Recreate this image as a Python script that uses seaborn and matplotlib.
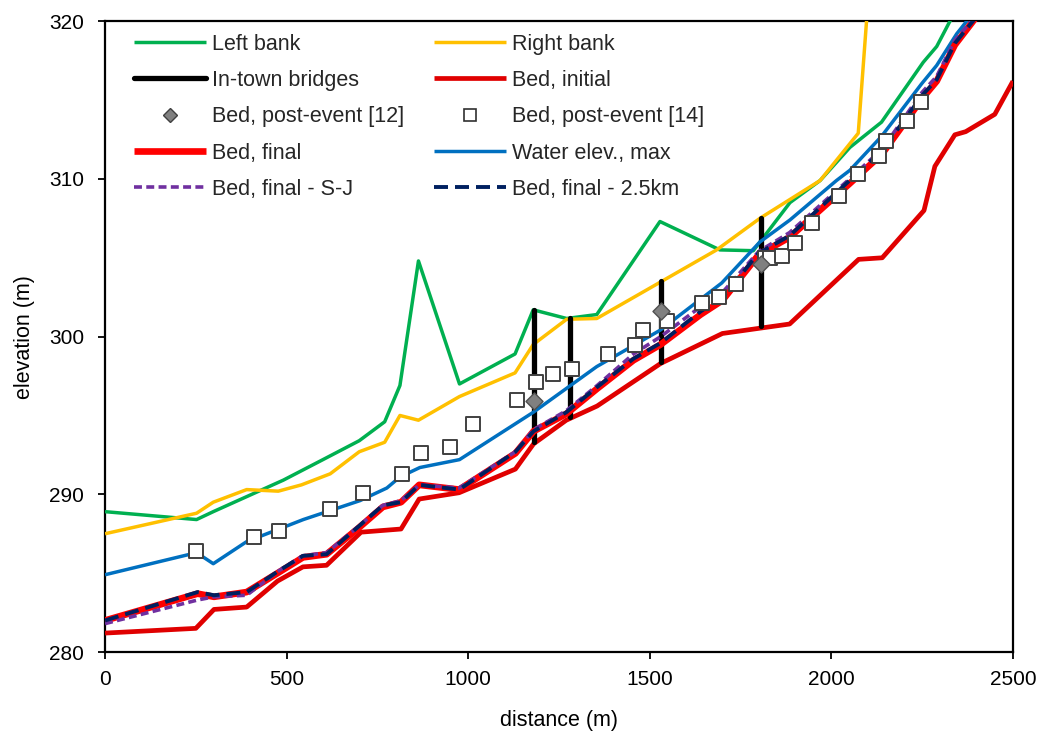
import numpy as np
import pandas as pd
import matplotlib
matplotlib.use("Agg")
import matplotlib.pyplot as plt
from matplotlib.lines import Line2D
import seaborn as sns

# ---------------- data ----------------
left_x = [0, 252, 298, 491, 600, 700, 770, 812, 863, 976, 1129, 1179, 1271, 1354, 1528, 1693, 1785, 1886, 1969, 2051, 2138, 2253, 2290, 2340]
left_y = [288.9, 288.4, 288.9, 290.9, 292.2, 293.4, 294.6, 296.9, 304.8, 297.0, 298.9, 301.7, 301.15, 301.4, 307.3, 305.5, 305.45, 308.5, 309.9, 312.0, 313.6, 317.4, 318.4, 320.6]

right_x = [0, 252, 298, 390, 477, 541, 620, 700, 770, 812, 863, 976, 1129, 1179, 1271, 1354, 1684, 1803, 1969, 2074, 2100]
right_y = [287.5, 288.8, 289.5, 290.3, 290.2, 290.6, 291.3, 292.7, 293.3, 295.0, 294.7, 296.2, 297.7, 299.5, 301.1, 301.15, 305.5, 307.5, 309.9, 312.9, 321.0]

water_x = [0, 252, 298, 390, 546, 702, 776, 812, 867, 976, 1179, 1354, 1528, 1698, 1803, 1886, 2014, 2051, 2138, 2249, 2290, 2345, 2400]
water_y = [284.9, 286.3, 285.6, 287.0, 288.4, 289.6, 290.4, 291.1, 291.7, 292.2, 295.2, 298.1, 300.4, 303.4, 306.0, 307.4, 309.9, 310.55, 312.7, 316.05, 317.2, 319.2, 320.8]

bed_init_x = [0, 250, 300, 390, 475, 545, 610, 705, 815, 865, 975, 1130, 1180, 1270, 1355, 1530, 1700, 1885, 2075, 2140, 2255, 2285, 2340, 2370, 2450, 2500]
bed_init_y = [281.2, 281.5, 282.7, 282.85, 284.5, 285.4, 285.5, 287.6, 287.8, 289.7, 290.1, 291.6, 293.2, 294.7, 295.6, 298.3, 300.2, 300.8, 304.9, 305.0, 308.0, 310.8, 312.8, 313.0, 314.1, 316.2]

bed_fin_x = [0, 255, 300, 390, 475, 545, 610, 700, 765, 815, 865, 975, 1130, 1180, 1270, 1355, 1455, 1530, 1640, 1700, 1800, 1885, 2050, 2140, 2250, 2290, 2340, 2400]
bed_fin_y = [282.0, 283.7, 283.5, 283.8, 285.0, 286.0, 286.2, 287.9, 289.2, 289.5, 290.6, 290.3, 292.6, 294.0, 295.1, 296.7, 298.5, 299.5, 301.4, 302.3, 305.2, 306.3, 309.7, 311.6, 315.1, 316.2, 318.5, 320.3]

bed_sj_x = [0, 255, 300, 390, 475, 545, 610, 700, 765, 815, 865, 975, 1130, 1180, 1270, 1355, 1455, 1530, 1640, 1700, 1800, 1885, 2050, 2140, 2250, 2290, 2340, 2400]
bed_sj_y = [281.8, 283.3, 283.5, 283.6, 285.1, 286.1, 286.3, 288.0, 289.3, 289.6, 290.6, 290.4, 292.7, 294.1, 295.3, 296.9, 298.9, 300.0, 301.9, 302.8, 305.4, 306.6, 310.0, 311.9, 315.5, 316.5, 318.8, 320.4]

bed_25_x = [0, 255, 300, 390, 475, 545, 610, 700, 765, 815, 865, 975, 1130, 1180, 1270, 1355, 1455, 1530, 1640, 1700, 1800, 1885, 2050, 2140, 2250, 2290, 2340, 2400]
bed_25_y = [282.0, 283.8, 283.6, 283.8, 285.1, 286.1, 286.2, 288.0, 289.3, 289.5, 290.6, 290.3, 292.7, 294.0, 295.2, 296.8, 298.6, 299.6, 301.6, 302.5, 305.3, 306.4, 309.9, 311.8, 315.3, 316.3, 318.6, 320.3]

bridge_x = [1180, 1280, 1530, 1805]
bridge_top = [301.7, 301.15, 303.5, 307.5]
bridge_bot = [293.3, 294.9, 298.4, 300.7]

post12_x = [1181, 1531, 1806]
post12_y = [295.9, 301.6, 304.6]

post14_x = [250, 410, 480, 620, 711, 817, 869, 950, 1014, 1135, 1187, 1234, 1285, 1384, 1460, 1482, 1548, 1645, 1691, 1737, 1817, 1831, 1865, 1900, 1947, 2022, 2074, 2132, 2150, 2207, 2247]
post14_y = [286.4, 287.3, 287.7, 289.05, 290.1, 291.3, 292.6, 293.0, 294.45, 296.0, 297.1, 297.6, 297.95, 298.9, 299.5, 300.4, 301.0, 302.15, 302.5, 303.35, 305.0, 305.0, 305.1, 305.95, 307.2, 308.95, 310.3, 311.45, 312.4, 313.7, 314.9]

# ---------------- style ----------------
sns.set_theme(style="white")
plt.rcParams['font.family'] = ['Liberation Sans', 'DejaVu Sans']

fig = plt.figure(figsize=(10.4, 7.33), dpi=100)
ax = fig.add_axes([0.101, 0.1105, 0.873, 0.8605])

FS = 15.5
TFS = 15

def line(x, y, label, color, lw, z, dashes=None):
    sns.lineplot(x=x, y=y, ax=ax, color=color, linewidth=lw, label=label,
                 estimator=None, sort=False, zorder=z)
    ln = ax.lines[-1]
    if dashes is not None:
        ln.set_dashes(dashes)
        ln.set_dash_capstyle('butt')
    ln.set_solid_capstyle('butt')
    return ln

h_left = line(left_x, left_y, 'Left bank', '#00B050', 2.5, 3)
h_right = line(right_x, right_y, 'Right bank', '#FFC000', 2.5, 3)
h_init = line(bed_init_x, bed_init_y, 'Bed, initial', '#E00000', 3.4, 4)

ax.vlines(bridge_x, bridge_bot, bridge_top, colors='black', linewidth=3.8, zorder=5, capstyle='round')
h_bridge = Line2D([], [], color='black', linewidth=3.8, solid_capstyle='round')

h_water = line(water_x, water_y, 'Water elev., max', '#0070C0', 2.5, 6)
h_fin = line(bed_fin_x, bed_fin_y, 'Bed, final', '#FF0000', 4.8, 6)
h_sj = line(bed_sj_x, bed_sj_y, 'Bed, final - S-J', '#7030A0', 2.6, 7, dashes=(2.2, 1.2))
h_25 = line(bed_25_x, bed_25_y, 'Bed, final - 2.5km', '#002060', 2.8, 8, dashes=(3.6, 1.8))

sns.scatterplot(x=post14_x, y=post14_y, ax=ax, marker='s', s=90, color='white',
                edgecolor='#404040', linewidth=1.4, zorder=9)
sns.scatterplot(x=post12_x, y=post12_y, ax=ax, marker='D', s=75, color='#808080',
                edgecolor='#505050', linewidth=1.0, zorder=10)
h_p12 = Line2D([], [], linestyle='none', marker='D', markersize=7, markerfacecolor='#808080',
               markeredgecolor='#404040', markeredgewidth=1.0)
h_p14 = Line2D([], [], linestyle='none', marker='s', markersize=8, markerfacecolor='white',
               markeredgecolor='#303030', markeredgewidth=1.2)

ax.set_xlim(0, 2500)
ax.set_ylim(280, 320)
ax.set_xticks([0, 500, 1000, 1500, 2000, 2500])
ax.set_yticks([280, 290, 300, 310, 320])
ax.tick_params(axis='both', direction='out', length=5, width=1.3, color='black',
               labelsize=TFS, labelcolor='black', bottom=True, left=True)
ax.tick_params(axis='x', pad=8)
ax.tick_params(axis='y', pad=10)
for sp in ax.spines.values():
    sp.set_color('black')
    sp.set_linewidth(1.6)
ax.set_xlabel('distance (m)', fontsize=FS, color='black', labelpad=15)
ax.set_ylabel('elevation (m)', fontsize=FS, color='black', labelpad=10)

handles = [h_left, h_bridge, h_p12, h_fin, h_sj,
           h_right, h_init, h_p14, h_water, h_25]
labels = ['Left bank', 'In-town bridges', 'Bed, post-event [12]', 'Bed, final', 'Bed, final - S-J',
          'Right bank', 'Bed, initial', 'Bed, post-event [14]', 'Water elev., max', 'Bed, final - 2.5km']
leg = ax.legend(handles, labels, ncol=2, loc='upper left', bbox_to_anchor=(0.0228, 0.994),
                borderaxespad=0, frameon=False, fontsize=FS, handlelength=3.35, handletextpad=0.28,
                columnspacing=1.35, labelspacing=0.71)

fig.savefig('out.png', dpi=100, facecolor='white')
